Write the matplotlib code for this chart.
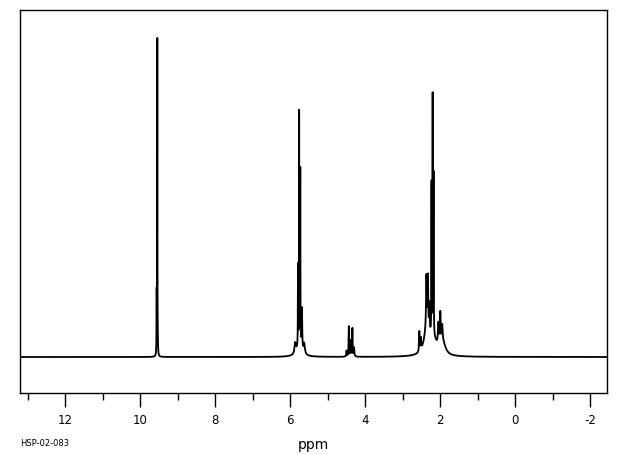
import numpy as np
import matplotlib
matplotlib.use("Agg")
import matplotlib.pyplot as plt
from matplotlib.ticker import MultipleLocator

plt.rcParams["axes.unicode_minus"] = False

# peak list: shift (ppm), height (baseline units), half width (ppm)
peak_ppm = [9.565, 9.548, 9.535,
            5.87, 5.795, 5.765, 5.735, 5.69, 5.63, 5.76,
            4.50, 4.44, 4.39, 4.345, 4.30,
            2.56, 2.52, 2.37, 2.33, 2.29, 2.235, 2.205, 2.18, 2.05, 2.00, 1.95,
            2.2, 2.38, 1.92]
peak_height = [60, 315, 12,
               10, 80, 230, 175, 40, 10, 12,
               6, 30, 16, 28, 9,
               20, 12, 55, 55, 30, 150, 235, 160, 22, 32, 18,
               18, 18, 10]
peak_width = [0.004, 0.003, 0.006,
              0.02, 0.004, 0.003, 0.004, 0.008, 0.02, 0.08,
              0.01, 0.006, 0.008, 0.006, 0.01,
              0.008, 0.01, 0.012, 0.01, 0.01, 0.004, 0.003, 0.004, 0.015, 0.012, 0.015,
              0.12, 0.08, 0.08]

x_min, x_max = -2.445, 13.21
ppm = np.linspace(x_min, x_max, 40000)
spectrum = np.zeros_like(ppm)
for c, h, w in zip(peak_ppm, peak_height, peak_width):
    spectrum += h * w**2 / ((ppm - c)**2 + w**2)

fig = plt.figure(figsize=(6.2, 4.55), dpi=100)
ax = fig.add_axes([20 / 620, 1 - 393 / 455, 587 / 620, 383 / 455])
ax.plot(ppm, spectrum, color="black", linewidth=1.3)

ax.set_xlim(x_max, x_min)
ax.set_ylim(-36, 347)
ax.xaxis.set_major_locator(MultipleLocator(2))
ax.xaxis.set_minor_locator(MultipleLocator(1))
ax.tick_params(axis="x", which="major", direction="out", length=10, width=1,
               labelsize=8.5, pad=5)
ax.tick_params(axis="x", which="minor", direction="out", length=5, width=1)
ax.set_yticks([])
for s in ax.spines.values():
    s.set_linewidth(1)
ax.set_xlabel("ppm", fontsize=10, labelpad=8)

fig.text(20 / 620, 1 - 444 / 455, "HSP-02-083", fontsize=6, va="center", ha="left")

fig.savefig("out.png", dpi=100)
